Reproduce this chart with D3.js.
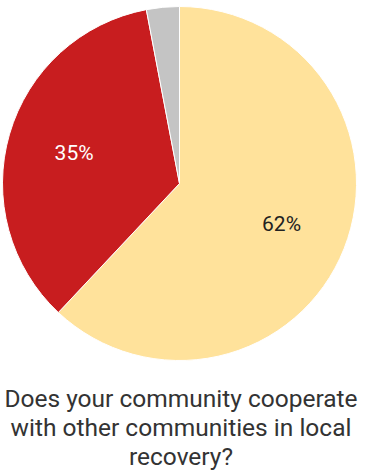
<!DOCTYPE html>
<html>
<head>
<meta charset="utf-8">
<script src="https://cdn.jsdelivr.net/npm/d3@7"></script>
<style>
  html, body { margin: 0; padding: 0; background: #fff; }
  svg { display: block; }
</style>
</head>
<body>
<svg id="chart" width="372" height="470"></svg>
<script>
// Survey answers, in drawing order (clockwise from 12 o'clock)
const answers = ["Yes", "No", "Don't know"];
const shares = [62, 35, 3];
const sliceColors = ["#ffe29b", "#c81d1f", "#c4c4c4"];
const labelColors = ["#222222", "#ffffff", "#222222"];
const titleLines = [
  "Does your community cooperate",
  "with other communities in local",
  "recovery?"
];

const svg = d3.select("#chart");
const cx = 179.5, cy = 183.5, radius = 177;

const pie = d3.pie().sort(null).value(d => d.value);
const data = answers.map((a, i) => ({ answer: a, value: shares[i], i }));
const arcs = pie(data);

const arc = d3.arc().innerRadius(0).outerRadius(radius);
const labelArc = d3.arc().innerRadius(radius * 0.62).outerRadius(radius * 0.62);

const g = svg.append("g").attr("transform", `translate(${cx},${cy})`);

g.selectAll("path.slice")
  .data(arcs)
  .join("path")
  .attr("class", "slice")
  .attr("d", arc)
  .attr("fill", d => sliceColors[d.data.i])
  .attr("stroke", "#ffffff")
  .attr("stroke-width", 1);

// percentage labels on the larger slices (baseline placed half a cap height below the centroid)
g.selectAll("text.pct")
  .data(arcs.filter(d => d.data.value >= 10))
  .join("text")
  .attr("class", "pct")
  .attr("transform", d => {
    const [x, y] = labelArc.centroid(d);
    return `translate(${x},${y + 7})`;
  })
  .attr("text-anchor", "middle")
  .attr("font-family", "Roboto, sans-serif")
  .attr("font-size", 21)
  .attr("fill", d => labelColors[d.data.i])
  .text(d => d.data.value + "%");

// question text below the pie
svg.append("g")
  .selectAll("text")
  .data(titleLines)
  .join("text")
  .attr("x", 181)
  .attr("y", (d, i) => 407 + i * 29)
  .attr("text-anchor", "middle")
  .attr("font-family", "Roboto, sans-serif")
  .attr("font-size", 24.5)
  .attr("fill", "#333333")
  .text(d => d);
</script>
</body>
</html>
